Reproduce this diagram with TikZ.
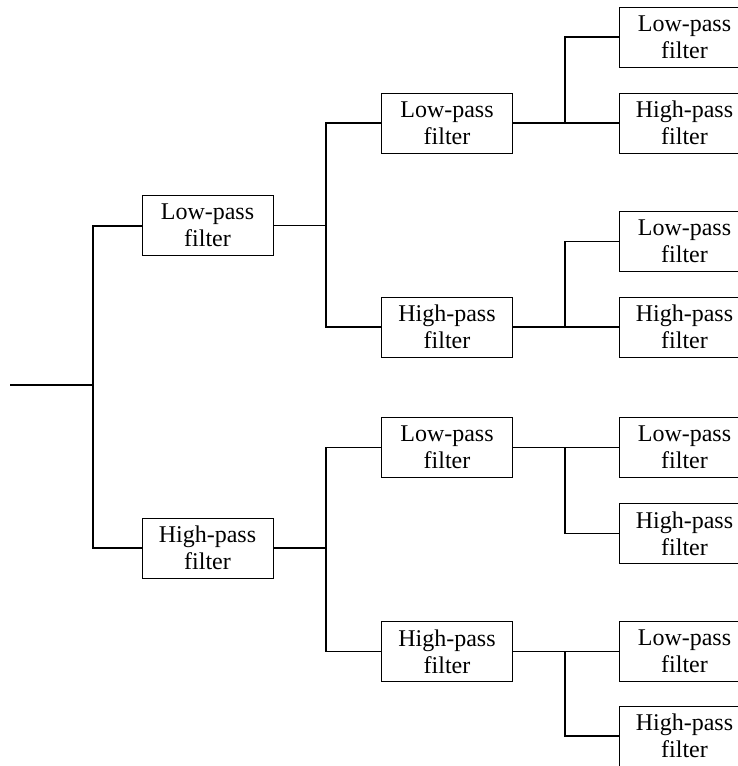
\documentclass[tikz,border=0pt]{standalone}
\usepackage{fontspec}
\setmainfont{Liberation Serif}
\usepackage{tikz}
\tikzstyle{block} = [rectangle, draw, line width=0.5pt, minimum width=65.5pt, minimum height=30pt, inner sep=0pt, align=center, font=\fontsize{12}{13.5}\selectfont]
\tikzstyle{wire}  = [line width=0.8pt]
\tikzstyle{trunk} = [line width=1pt]

\begin{document}
\begin{tikzpicture}[x=0.5pt, y=-0.5pt]
    \useasboundingbox (0,0) rectangle (738,766);
    \clip (0,0) rectangle (738,766);

    % first split
    \node (l)   at (207.5, 225.5) [block] {Low-pass\\filter};
    \node (h)   at (207.5, 548)   [block] {High-pass\\filter};
    % second split
    \node (ll)  at (447, 123)     [block] {Low-pass\\filter};
    \node (lh)  at (447, 327)     [block] {High-pass\\filter};
    \node (hl)  at (447, 447.5)   [block] {Low-pass\\filter};
    \node (hh)  at (447, 651.5)   [block] {High-pass\\filter};
    % third split
    \node (lll) at (684.5, 37)    [block] {Low-pass\\filter};
    \node (llh) at (684.5, 123)   [block] {High-pass\\filter};
    \node (lhl) at (684.5, 241.5) [block] {Low-pass\\filter};
    \node (lhh) at (684.5, 327)   [block] {High-pass\\filter};
    \node (hll) at (684.5, 447.5) [block] {Low-pass\\filter};
    \node (hlh) at (684.5, 533.5) [block] {High-pass\\filter};
    \node (hhl) at (684.5, 651.5) [block] {Low-pass\\filter};
    \node (hhh) at (684.5, 736)   [block] {High-pass\\filter};

    \coordinate (in)  at (10, 385);
    \coordinate (j)   at (93, 385);
    \coordinate (jl)  at (326, 225.5);
    \coordinate (jh)  at (326, 548);
    \coordinate (jll) at (565, 123);
    \coordinate (jlh) at (565, 327);
    \coordinate (jhl) at (565, 447.5);
    \coordinate (jhh) at (565, 651.5);

    \draw [trunk] (in) -- (j);
    \draw [trunk] (l.west) -| (j) |- (h.west);

    \draw [wire] (l.east) -- (jl);
    \draw [wire] (ll.west) -| (jl) |- (lh.west);
    \draw [wire] (h.east) -- (jh);
    \draw [wire] (hl.west) -| (jh) |- (hh.west);

    \draw [wire] (ll.east) -- (llh.west);
    \draw [wire] (jll) |- (lll.west);
    \draw [wire] (lh.east) -- (lhh.west);
    \draw [wire] (jlh) |- (lhl.west);
    \draw [wire] (hl.east) -- (hll.west);
    \draw [wire] (jhl) |- (hlh.west);
    \draw [wire] (hh.east) -- (hhl.west);
    \draw [wire] (jhh) |- (hhh.west);
\end{tikzpicture}
\end{document}
